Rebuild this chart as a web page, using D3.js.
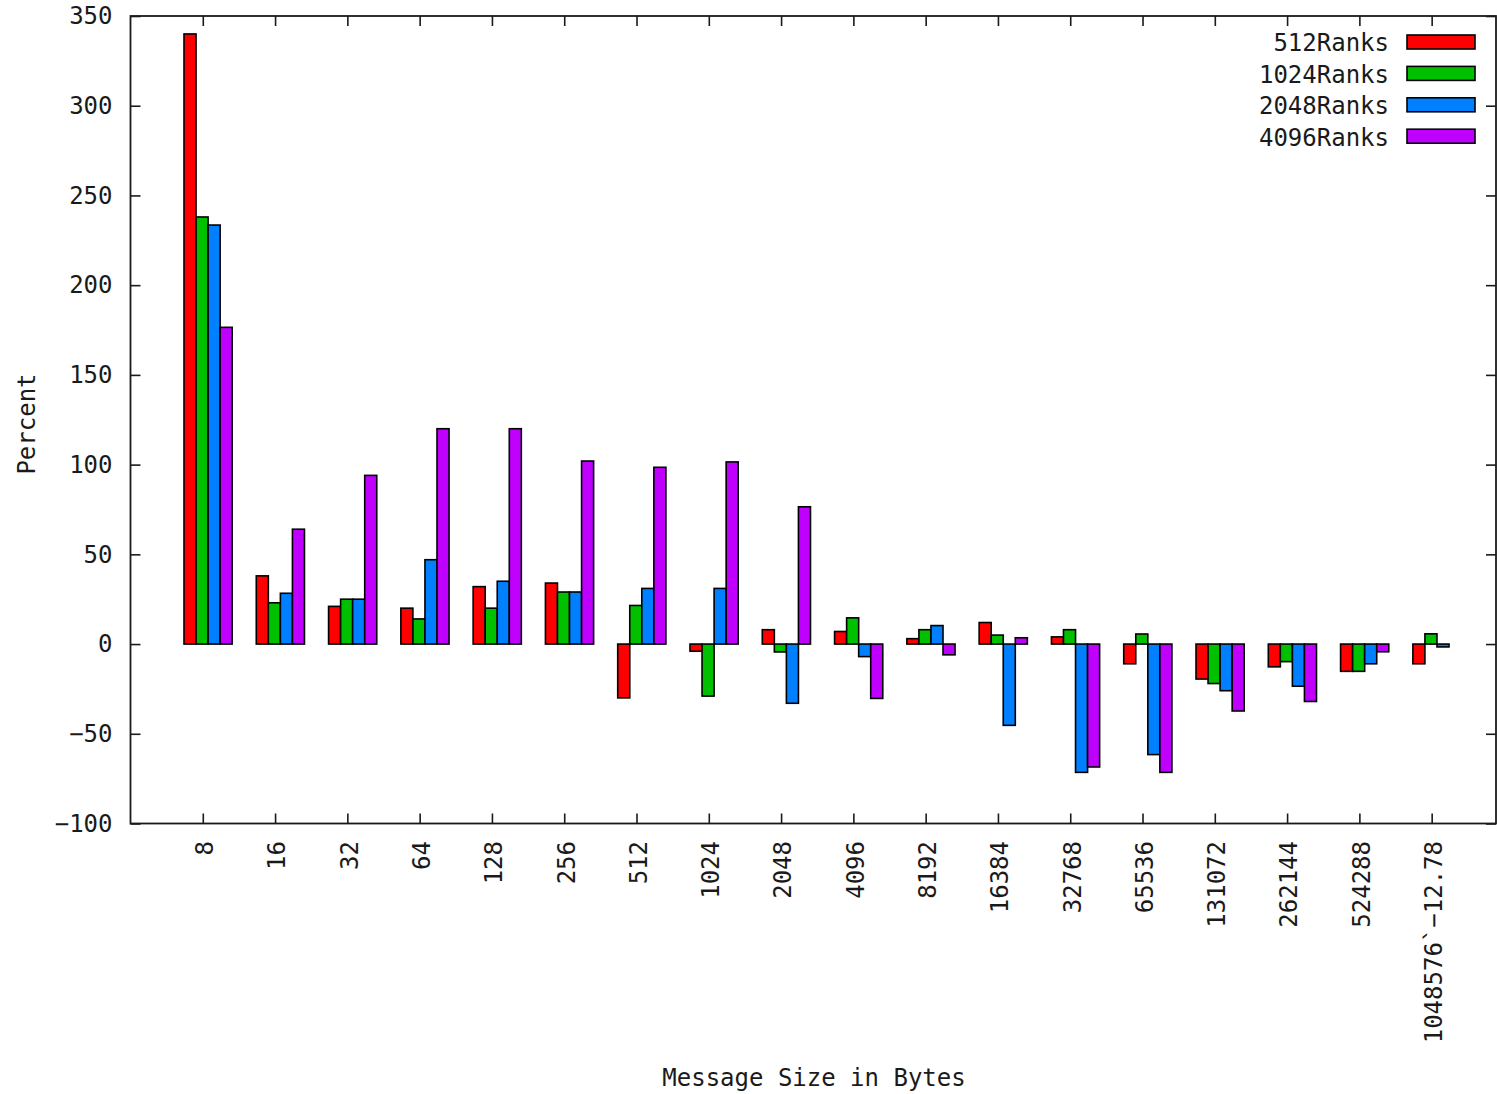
<!DOCTYPE html>
<html>
<head>
<meta charset="utf-8">
<script src="https://cdn.jsdelivr.net/npm/d3@7"></script>
<style>
  body { margin: 0; background: #fff; }
  text { font-family: "DejaVu Sans Mono", "Liberation Mono", monospace; font-size: 24px; fill: #1a1a1a; }
</style>
</head>
<body>
<div class="chart"></div>
<script>
const width = 1497;
const height = 1094;

// message sizes (x categories)
const sizes = ["8", "16", "32", "64", "128", "256", "512", "1024", "2048", "4096",
               "8192", "16384", "32768", "65536", "131072", "262144", "524288", "1048576`-12.78"];

const seriesNames = ["512Ranks", "1024Ranks", "2048Ranks", "4096Ranks"];
const colors = ["#ff0000", "#00c000", "#0080ff", "#c000ff"];

// percent values, one array per series
const ranks512  = [340, 38, 21, 20, 32, 34, -30, -4, 8, 7, 3, 12, 4, -11, -19.5, -12.7, -15.2, -11];
const ranks1024 = [238, 23, 25, 14, 20, 29, 21.5, -29, -4.4, 14.6, 8, 5, 8, 5.6, -22, -9.8, -15.2, 5.7];
const ranks2048 = [233.5, 28.3, 25, 47, 35, 29, 31, 31, -33, -7, 10.3, -45.3, -71.5, -61.6, -26, -23.5, -11, -1.6];
const ranks4096 = [176.5, 64, 94, 120, 120, 102, 98.5, 101.5, 76.5, -30.3, -6, 3.5, -68.5, -71.5, -37.3, -32, -4.3, null];

const yTicks = [-100, -50, 0, 50, 100, 150, 200, 250, 300, 350];

const allSeries = [ranks512, ranks1024, ranks2048, ranks4096];

const margin = {left: 130.5, right: 1496, top: 16, bottom: 823.5};

const svg = d3.select(".chart")
    .append("svg")
    .attr("width", width)
    .attr("height", height)
    .attr("viewBox", [0, 0, width, height]);

let x = d3.scaleLinear()
    .domain([-1, 17.89])
    .range([margin.left, margin.right]);

let y = d3.scaleLinear()
    .domain([-100, 350])
    .range([margin.bottom, margin.top]);

const barW = 1 / 6;

// flatten to one record per bar
let bars = [];
allSeries.forEach((vals, j) => {
    vals.forEach((v, i) => {
        if (v !== null) bars.push({i: i, j: j, v: v});
    });
});

svg.append("g")
    .attr("stroke", "#000")
    .attr("stroke-width", 1.6)
    .selectAll("rect")
    .data(bars)
    .join("rect")
    .attr("x", d => x(d.i - 0.26 + d.j * barW))
    .attr("width", x(barW) - x(0))
    .attr("y", d => y(Math.max(0, d.v)))
    .attr("height", d => Math.abs(y(d.v) - y(0)))
    .attr("fill", d => colors[d.j]);

// y axis, ticks pointing inward
svg.append("g")
    .attr("transform", `translate(${margin.left},0)`)
    .call(d3.axisLeft(y).tickValues(yTicks).tickSize(-10).tickPadding(18))
    .call(g => g.select(".domain").remove())
    .call(g => g.selectAll("line").attr("stroke", "#1a1a1a").attr("stroke-width", 1.6))
    .call(g => g.selectAll("text")
        .attr("font-family", "DejaVu Sans Mono")
        .attr("font-size", 24)
        .attr("fill", "#1a1a1a")
        .text(d => d < 0 ? "\u2212" + Math.abs(d) : d));

// mirrored y ticks on the right
svg.append("g")
    .attr("transform", `translate(${margin.right},0)`)
    .call(d3.axisRight(y).tickValues(yTicks).tickSize(-10).tickFormat(""))
    .call(g => g.select(".domain").remove())
    .call(g => g.selectAll("line").attr("stroke", "#1a1a1a").attr("stroke-width", 1.6));

// x axis ticks bottom (inward) and top mirror
const xTickVals = d3.range(sizes.length);
svg.append("g")
    .attr("transform", `translate(0,${margin.bottom})`)
    .call(d3.axisBottom(x).tickValues(xTickVals).tickSize(-10).tickFormat(""))
    .call(g => g.select(".domain").remove())
    .call(g => g.selectAll("line").attr("stroke", "#1a1a1a").attr("stroke-width", 1.6));

svg.append("g")
    .attr("transform", `translate(0,${margin.top})`)
    .call(d3.axisTop(x).tickValues(xTickVals).tickSize(-10).tickFormat(""))
    .call(g => g.select(".domain").remove())
    .call(g => g.selectAll("line").attr("stroke", "#1a1a1a").attr("stroke-width", 1.6));

// rotated category labels
svg.append("g")
    .selectAll("text")
    .data(sizes)
    .join("text")
    .attr("transform", (d, i) => `translate(${x(i) + 2},841) rotate(-90)`)
    .attr("text-anchor", "end")
    .attr("dy", "0.35em")
    .text(d => d.replace("-", "\u2212"));

// plot border
svg.append("rect")
    .attr("x", margin.left)
    .attr("y", margin.top)
    .attr("width", margin.right - margin.left)
    .attr("height", margin.bottom - margin.top)
    .attr("fill", "none")
    .attr("stroke", "#1a1a1a")
    .attr("stroke-width", 1.8);

// axis titles
svg.append("text")
    .attr("transform", "translate(27,424) rotate(-90)")
    .attr("text-anchor", "middle")
    .attr("dy", "0.35em")
    .text("Percent");

svg.append("text")
    .attr("x", 814)
    .attr("y", 1078)
    .attr("text-anchor", "middle")
    .attr("dy", "0.35em")
    .text("Message Size in Bytes");

// legend
let legend = svg.append("g")
    .selectAll("g")
    .data(seriesNames)
    .join("g")
    .attr("transform", (d, j) => `translate(0,${43 + j * 31.4})`);

legend.append("text")
    .attr("x", 1389)
    .attr("text-anchor", "end")
    .attr("dy", "0.35em")
    .text(d => d);

legend.append("rect")
    .attr("x", 1407)
    .attr("y", -8)
    .attr("width", 68)
    .attr("height", 14)
    .attr("fill", (d, j) => colors[j])
    .attr("stroke", "#000")
    .attr("stroke-width", 1.6);
</script>
</body>
</html>
